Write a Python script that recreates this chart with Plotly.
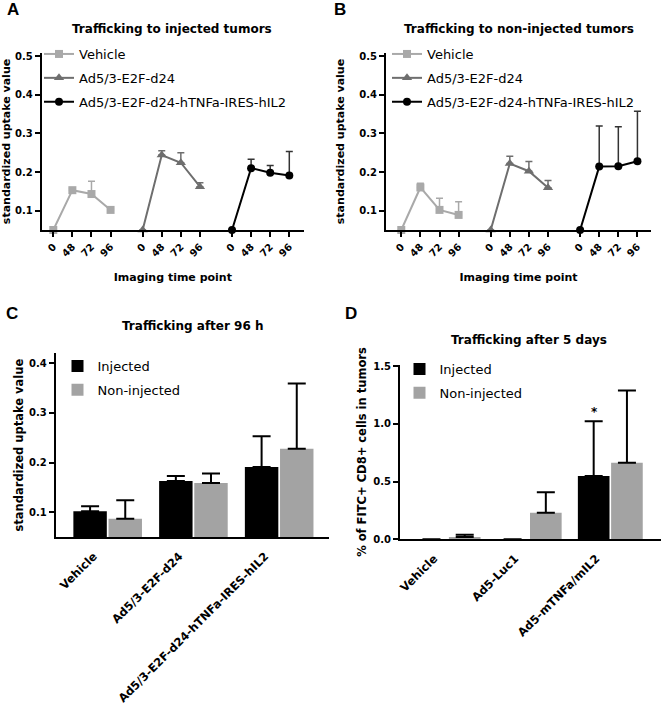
import plotly.graph_objects as go

W, H = 662, 705

# ---------------- data ----------------
TIME_LABELS = ["0", "48", "72", "96"]
SERIES = ["Vehicle", "Ad5/3-E2F-d24", "Ad5/3-E2F-d24-hTNFa-IRES-hIL2"]

# Panel A: trafficking to injected tumors (mean, upper error)
A_vehicle = [0.05, 0.153, 0.143, 0.102]
A_vehicle_err = [0.0, 0.005, 0.033, 0.004]
A_e2f = [0.05, 0.244, 0.224, 0.162]
A_e2f_err = [0.0, 0.011, 0.026, 0.010]
A_tnf = [0.05, 0.210, 0.198, 0.191]
A_tnf_err = [0.0, 0.023, 0.019, 0.062]

# Panel B: trafficking to non-injected tumors
B_vehicle = [0.05, 0.160, 0.102, 0.089]
B_vehicle_err = [0.0, 0.011, 0.030, 0.034]
B_e2f = [0.05, 0.222, 0.202, 0.159]
B_e2f_err = [0.0, 0.019, 0.025, 0.019]
B_tnf = [0.05, 0.214, 0.215, 0.228]
B_tnf_err = [0.0, 0.105, 0.102, 0.129]

# Panel C: trafficking after 96 h
C_groups = ["Vehicle", "Ad5/3-E2F-d24", "Ad5/3-E2F-d24-hTNFa-IRES-hIL2"]
C_injected = [0.102, 0.163, 0.191]
C_injected_err = [0.010, 0.010, 0.062]
C_noninjected = [0.087, 0.159, 0.228]
C_noninjected_err = [0.037, 0.019, 0.131]

# Panel D: trafficking after 5 days
D_groups = ["Vehicle", "Ad5-Luc1", "Ad5-mTNFa/mIL2"]
D_injected = [0.0, 0.0, 0.548]
D_injected_err = [0.0, 0.0, 0.476]
D_noninjected = [0.02, 0.231, 0.664]
D_noninjected_err = [0.02, 0.176, 0.626]

# ---------------- style ----------------
FONT = "DejaVu Sans"
COL_VEH = "#A9A9A9"
COL_E2F = "#6E6E6E"
COL_TNF = "#000000"
COL_INJ = "#000000"
COL_NON = "#A3A3A3"
GROUP_SPACING = 4.68


def px_x(p):
    return p / W


def px_y(p):
    return 1 - p / H


def positions(g):
    return [g * GROUP_SPACING + i for i in range(len(TIME_LABELS))]


fig = go.Figure()

line_specs = [
    ("A", "x", "y", "legend",
     [(A_vehicle, A_vehicle_err), (A_e2f, A_e2f_err), (A_tnf, A_tnf_err)]),
    ("B", "x2", "y2", "legend2",
     [(B_vehicle, B_vehicle_err), (B_e2f, B_e2f_err), (B_tnf, B_tnf_err)]),
]
symbols = ["square", "triangle-up", "circle"]
colors = [COL_VEH, COL_E2F, COL_TNF]
err_colors = [COL_VEH, COL_E2F, "#333333"]
sizes = [8, 9, 8]

for panel, xa, ya, leg, data in line_specs:
    for g, (vals, errs) in enumerate(data):
        fig.add_trace(go.Scatter(
            x=positions(g), y=vals, mode="lines+markers",
            name=SERIES[g], legend=leg, legendgroup=f"{panel}{g}",
            line=dict(color=colors[g], width=2),
            marker=dict(symbol=symbols[g], size=sizes[g], color=colors[g]),
            error_y=dict(type="data", symmetric=False, array=errs,
                         arrayminus=[0] * len(errs), color=err_colors[g],
                         thickness=1.5, width=3.5),
            cliponaxis=False, xaxis=xa, yaxis=ya,
        ))

bar_specs = [
    ("C", "x3", "y3", "legend3", C_groups,
     [(C_injected, C_injected_err), (C_noninjected, C_noninjected_err)]),
    ("D", "x4", "y4", "legend4", D_groups,
     [(D_injected, D_injected_err), (D_noninjected, D_noninjected_err)]),
]
bar_names = ["Injected", "Non-injected"]
bar_colors = [COL_INJ, COL_NON]
bar_offsets = [-0.40, 0.01]
for panel, xa, ya, leg, groups, data in bar_specs:
    for k, (vals, errs) in enumerate(data):
        fig.add_trace(go.Bar(
            x=groups, y=vals, name=bar_names[k], legend=leg,
            legendgroup=f"{panel}{k}",
            width=0.39, offset=bar_offsets[k],
            marker=dict(color=bar_colors[k], line=dict(width=0)),
            error_y=dict(type="data", symmetric=False, array=errs,
                         arrayminus=[0] * len(errs), color="black",
                         thickness=2, width=9),
            xaxis=xa, yaxis=ya,
        ))

# ---------------- axes ----------------
axis_common = dict(
    showline=True, linecolor="black", linewidth=2, showgrid=False,
    zeroline=False, ticks="outside", ticklen=5, tickwidth=2,
    tickcolor="black", automargin=False,
    tickfont=dict(family=FONT, size=10, color="black", weight="bold"),
)
title_font = dict(family=FONT, size=11, color="black", weight="bold")
title_font_cd = dict(family=FONT, size=11.5, color="black", weight="bold")
cat_tickfont = dict(family=FONT, size=11.5, color="black", weight="bold")

all_pos = [p for g in range(3) for p in positions(g)]
all_lab = TIME_LABELS * 3

fig.update_layout(
    xaxis=dict(axis_common, domain=[px_x(41.7), px_x(304)],
               range=[-0.607, 13.13], tickvals=all_pos, ticktext=all_lab,
               tickangle=-45, anchor="y",
               title=dict(text="Imaging time point", font=title_font,
                          standoff=16)),
    yaxis=dict(axis_common, domain=[px_y(230), px_y(53)],
               range=[0.05, 0.5078], tickvals=[0.1, 0.2, 0.3, 0.4, 0.5],
               anchor="x",
               title=dict(text="standardized uptake value", font=title_font,
                          standoff=12)),
    xaxis2=dict(axis_common, domain=[px_x(386), px_x(651)],
                range=[-0.80, 13.07], tickvals=all_pos, ticktext=all_lab,
                tickangle=-45, anchor="y2",
                title=dict(text="Imaging time point", font=title_font,
                           standoff=16)),
    yaxis2=dict(axis_common, domain=[px_y(230), px_y(53)],
                range=[0.05, 0.5078], tickvals=[0.1, 0.2, 0.3, 0.4, 0.5],
                anchor="x2",
                title=dict(text="standardized uptake value", font=title_font,
                           standoff=12)),
    xaxis3=dict(axis_common, domain=[px_x(55.7), px_x(329)],
                range=[-0.606, 2.581], type="category", ticks="",
                tickangle=-45, anchor="y3", tickfont=cat_tickfont,
                ticklabelshift=-14, ticklabelstandoff=6),
    yaxis3=dict(axis_common, domain=[px_y(537), px_y(353.3)],
                range=[0.05, 0.42], tickvals=[0.1, 0.2, 0.3, 0.4],
                anchor="x3",
                title=dict(text="standardized uptake value", font=title_font_cd,
                           standoff=3)),
    xaxis4=dict(axis_common, domain=[px_x(400), px_x(661)],
                range=[-0.593, 2.625], type="category", ticks="",
                tickangle=-45, anchor="y4", tickfont=cat_tickfont,
                ticklabelshift=-14, ticklabelstandoff=6),
    yaxis4=dict(axis_common, domain=[px_y(539.3), px_y(364.7)],
                range=[0, 1.513], tickvals=[0, 0.5, 1.0, 1.5],
                tickformat=".1f", anchor="x4",
                title=dict(text="% of FITC+ CD8+ cells in tumors",
                           font=title_font_cd, standoff=4)),
)

# ---------------- legends ----------------
def legend_cfg(xp, yp):
    return dict(x=px_x(xp), y=px_y(yp), xref="paper", yref="paper",
                xanchor="left", yanchor="top", bgcolor="rgba(0,0,0,0)",
                font=dict(family=FONT, size=13, color="black"),
                tracegroupgap=4, traceorder="grouped", borderwidth=0)


fig.update_layout(
    legend=legend_cfg(39, 39),
    legend2=legend_cfg(387, 39),
    legend3=legend_cfg(57.5, 351),
    legend4=legend_cfg(399.5, 354),
    barmode="overlay",
    showlegend=True,
)

# ---------------- titles, panel letters ----------------
annots = []
titles = [
    ("Trafficking to injected tumors", 172, 29, 12),
    ("Trafficking to non-injected tumors", 518.5, 29, 12),
    ("Trafficking after 96 h", 193, 326, 12),
    ("Trafficking after 5 days", 529, 340, 12),
]
for text, xp, yp, fs in titles:
    annots.append(dict(text=text, x=px_x(xp), y=px_y(yp), xref="paper",
                       yref="paper", showarrow=False, xanchor="center",
                       yanchor="middle",
                       font=dict(family=FONT, size=fs, color="black",
                                 weight="bold")))
letters = [("A", 12.5, 9.5), ("B", 340, 9.5), ("C", 11.5, 313.5),
           ("D", 351, 313.5)]
for text, xp, yp in letters:
    annots.append(dict(text=text, x=px_x(xp), y=px_y(yp), xref="paper",
                       yref="paper", showarrow=False, xanchor="center",
                       yanchor="middle",
                       font=dict(family="Liberation Sans", size=17,
                                 color="black", weight="bold")))
# significance marker above the injected Ad5-mTNFa/mIL2 bar
annots.append(dict(text="*", x=D_groups[2], y=D_injected[2] + D_injected_err[2],
                   xref="x4", yref="y4", xshift=-16, yshift=0,
                   showarrow=False, yanchor="bottom",
                   font=dict(family=FONT, size=12, color="black",
                             weight="bold")))

fig.update_layout(
    annotations=annots,
    width=W, height=H,
    margin=dict(l=0, r=0, t=0, b=0),
    paper_bgcolor="white", plot_bgcolor="white",
)

# remove the browser's default 8px body margin so the figure fills the window
fig.write_html("out.html",
               config={"displayModeBar": False},
               post_script="document.body.style.margin='0';")
